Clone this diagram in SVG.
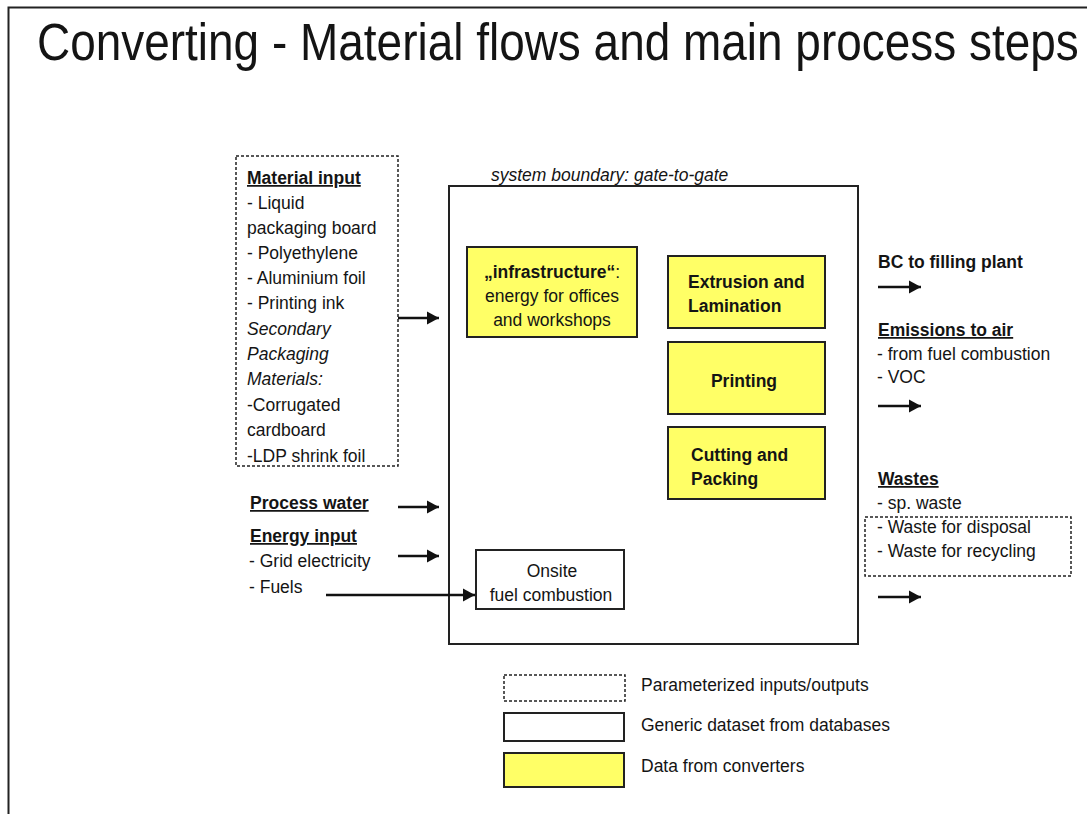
<svg xmlns="http://www.w3.org/2000/svg" width="1087" height="814" viewBox="0 0 1087 814">
<defs>
<style>
text{font-family:"Liberation Sans",Arial,sans-serif;font-size:17.5px;fill:#141414}
.b{font-weight:bold}
.u{text-decoration:underline}
.i{font-style:italic}
.m{text-anchor:middle}
.y{fill:#FFFF66;stroke:#222;stroke-width:2}
.w{fill:#fff;stroke:#222;stroke-width:2}
.d{fill:none;stroke:#222;stroke-width:1.5;stroke-dasharray:3 2}
.a{stroke:#111;stroke-width:2.4;fill:none;marker-end:url(#ah)}
</style>
<marker id="ah" markerUnits="userSpaceOnUse" markerWidth="14" markerHeight="14" refX="12" refY="7" orient="auto">
<path d="M0,0.5 L12,7 L0,13.5 z" fill="#111"/>
</marker>
</defs>
<rect width="1087" height="814" fill="#fff"/>
<g id="frame" stroke="#222" stroke-width="2" fill="none">
<path d="M1087,7.5 H8.5 V814"/>
</g>
<text id="title" transform="translate(37,60) scale(0.901,1)" x="0" y="0" style="font-size:51px">Converting - Material flows and main process steps</text>

<g id="material-input">
<rect class="d" x="236" y="156" width="162" height="310"/>
<text x="247" y="184" class="b u">Material input</text>
<text x="247" y="209">- Liquid</text>
<text x="247" y="234">packaging board</text>
<text x="247" y="259">- Polyethylene</text>
<text x="247" y="284">- Aluminium foil</text>
<text x="247" y="309">- Printing ink</text>
<text x="247" y="335" class="i">Secondary</text>
<text x="247" y="360" class="i">Packaging</text>
<text x="247" y="385" class="i">Materials:</text>
<text x="247" y="411">-Corrugated</text>
<text x="247" y="436">cardboard</text>
<text x="247" y="462">-LDP shrink foil</text>
</g>

<g id="system-boundary">
<text x="491" y="181" class="i">system boundary: gate-to-gate</text>
<rect x="449" y="186" width="409" height="458" fill="none" stroke="#222" stroke-width="2"/>
</g>

<g id="infrastructure">
<rect class="y" x="467" y="247" width="170" height="90"/>
<text x="552" y="278" class="m"><tspan class="b">„infrastructure“</tspan>:</text>
<text x="552" y="302" class="m">energy for offices</text>
<text x="552" y="326" class="m">and workshops</text>
</g>

<g id="extrusion">
<rect class="y" x="668" y="256" width="157" height="72"/>
<text x="688" y="288" class="b">Extrusion and</text>
<text x="688" y="312" class="b">Lamination</text>
</g>

<g id="printing">
<rect class="y" x="668" y="342" width="157" height="72"/>
<text x="744" y="387" class="b m">Printing</text>
</g>

<g id="cutting">
<rect class="y" x="668" y="427" width="157" height="72"/>
<text x="691" y="461" class="b">Cutting and</text>
<text x="691" y="485" class="b">Packing</text>
</g>

<g id="onsite">
<rect class="w" x="476" y="550" width="148" height="59"/>
<text x="552" y="577" class="m">Onsite</text>
<text x="551" y="601" class="m">fuel combustion</text>
</g>

<g id="left-inputs">
<text x="250" y="509" class="b u">Process water</text>
<text x="250" y="542" class="b u">Energy input</text>
<text x="249" y="567">- Grid electricity</text>
<text x="249" y="593">- Fuels</text>
</g>

<g id="outputs">
<text x="878" y="268" class="b">BC to filling plant</text>
<text x="878" y="336" class="b u">Emissions to air</text>
<text x="877" y="360">- from fuel combustion</text>
<text x="877" y="383">- VOC</text>
<text x="878" y="485" class="b u">Wastes</text>
<text x="877" y="509">- sp. waste</text>
<rect class="d" x="865" y="517" width="206" height="59"/>
<text x="877" y="533">- Waste for disposal</text>
<text x="877" y="557">- Waste for recycling</text>
</g>

<g id="connectors">
<line class="a" x1="398" y1="318" x2="439" y2="318"/>
<line class="a" x1="398" y1="507" x2="439" y2="507"/>
<line class="a" x1="398" y1="556" x2="439" y2="556"/>
<line class="a" x1="326" y1="595" x2="475" y2="595"/>
<line class="a" x1="878" y1="287" x2="921" y2="287"/>
<line class="a" x1="878" y1="406" x2="921" y2="406"/>
<line class="a" x1="878" y1="597" x2="921" y2="597"/>
</g>

<g id="legend">
<rect class="d" x="504" y="675" width="121" height="26"/>
<text x="641" y="691">Parameterized inputs/outputs</text>
<rect class="w" x="504" y="713" width="120" height="28"/>
<text x="641" y="731">Generic dataset from databases</text>
<rect class="y" x="504" y="753" width="120" height="34"/>
<text x="641" y="772">Data from converters</text>
</g>
</svg>
